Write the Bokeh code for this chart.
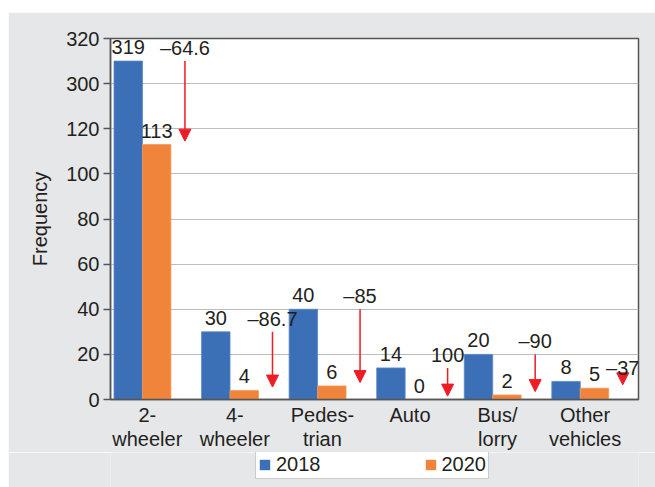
from bokeh.plotting import figure
from bokeh.models import (ColumnDataSource, Range1d, FixedTicker, Arrow, NormalHead,
                          Legend, LegendItem, LabelSet, Spacer)
from bokeh.layouts import row, column
from bokeh.core.properties import value
from bokeh.embed import file_html
from bokeh.resources import INLINE

# ---------------- data ----------------
categories = ["2-\nwheeler", "4-\nwheeler", "Pedes-\ntrian", "Auto", "Bus/\nlorry", "Other\nvehicles"]
freq_2018 = [319, 30, 40, 14, 20, 8]
freq_2020 = [113, 4, 6, 0, 2, 5]
pct_change = ["\u201364.6", "\u201386.7", "\u201385", "100", "\u201390", "\u201337"]
series_names = ["2018", "2020"]
y_tick_values = [0, 20, 40, 60, 80, 100, 120, 300, 320]

# ---------------- broken axis mapping ----------------
LOWER_MAX = 120      # last tick of the lower segment
UPPER_START = 300    # first tick of the upper segment
GAP = 20             # visual spacing between 120 and 300
BAR_CAP = 150        # drawn top of bars running into the upper segment

def disp(v):
    if v <= LOWER_MAX:
        return v
    return LOWER_MAX + GAP + (v - UPPER_START)

def bar_disp(v):
    return min(disp(v), BAR_CAP)

tick_pos = [disp(v) for v in y_tick_values]

FONT = "Liberation Sans"
TXT = "#231f20"
BLUE = "#3b6fb6"
ORANGE = "#f0843a"
RED = "#ee1c25"
BG = "#e6e7e9"
AXC = "#555555"

n = len(categories)
idx = list(range(n))
BW = 0.325
blue_x = [i + BW / 2 for i in idx]
orange_x = [i + BW * 1.5 for i in idx]
arrow_x = [i + 0.81 for i in idx]
label_x = [i + 0.38 for i in idx]

b_top = [bar_disp(v) for v in freq_2018]
o_top = [bar_disp(v) for v in freq_2020]

src_b = ColumnDataSource(dict(x=blue_x, top=b_top, lab=[str(v) for v in freq_2018]))
src_o = ColumnDataSource(dict(x=orange_x, top=o_top, lab=[str(v) for v in freq_2020]))
arr_start = [t for t in b_top]
arr_end = [t + 1.5 for t in o_top]
src_a = ColumnDataSource(dict(x=arrow_x, y0=arr_start, y1=arr_end, lab=pct_change))

p = figure(width=647, height=440, output_backend="svg", toolbar_location=None,
           x_range=Range1d(-0.04, 5.99), y_range=Range1d(0, disp(320)),
           min_border_left=102, min_border_right=17, min_border_top=26, min_border_bottom=52)
p.background_fill_color = "white"
p.border_fill_color = BG
p.outline_line_color = AXC
p.outline_line_width = 1.5

rb = p.vbar(x="x", top="top", width=BW, bottom=0, source=src_b,
            fill_color=BLUE, line_color="#5a88c8", line_width=0.8)
ro = p.vbar(x="x", top="top", width=BW, bottom=0, source=src_o,
            fill_color=ORANGE, line_color="#f39a5c", line_width=0.8)

# value labels
for src in (src_b, src_o):
    p.add_layout(LabelSet(x="x", y="top", text="lab", source=src, text_align="center",
                          text_baseline="alphabetic", y_offset=7,
                          text_font=value(FONT), text_font_size="20px", text_color=TXT))

# change arrows
p.add_layout(Arrow(x_start="x", y_start="y0", x_end="x", y_end="y1", source=src_a,
                   line_color=RED, line_width=1.5,
                   end=NormalHead(size=12, fill_color=RED, line_color=RED)))
p.add_layout(LabelSet(x="x", y="y0", text="lab", source=src_a, text_align="center",
                      text_baseline="alphabetic", y_offset=6,
                      text_font=value(FONT), text_font_size="20px", text_color=TXT))

# axes
p.yaxis.ticker = FixedTicker(ticks=tick_pos)
p.yaxis.major_label_overrides = {t: str(v) for t, v in zip(tick_pos, y_tick_values)}
p.yaxis.axis_label = "Frequency"
p.yaxis.axis_label_text_font = FONT
p.yaxis.axis_label_text_font_size = "20px"
p.yaxis.axis_label_text_font_style = "normal"
p.yaxis.axis_label_text_color = TXT
p.yaxis.axis_label_standoff = 12
p.yaxis.major_tick_out = 7
p.yaxis.major_tick_in = 0
p.yaxis.minor_tick_out = 0
p.yaxis.minor_tick_in = 0
p.yaxis.major_label_standoff = 4

p.xaxis.ticker = FixedTicker(ticks=label_x)
p.xaxis.major_label_overrides = {x: c for x, c in zip(label_x, categories)}
p.xaxis.major_tick_out = 0
p.xaxis.major_tick_in = 0
p.xaxis.minor_tick_out = 0
p.xaxis.minor_tick_in = 0
p.xaxis.major_label_standoff = 4
p.xaxis.major_label_text_line_height = 1.1

for ax in (p.xaxis, p.yaxis):
    ax.axis_line_color = AXC
    ax.axis_line_width = 1.5
    ax.major_tick_line_color = AXC
    ax.major_tick_line_width = 1.5
    ax.major_label_text_font = FONT
    ax.major_label_text_font_size = "20px"
    ax.major_label_text_color = TXT

p.xgrid.grid_line_color = None
p.ygrid.ticker = FixedTicker(ticks=tick_pos)
p.ygrid.grid_line_color = "#bdbdbd"
p.ygrid.grid_line_width = 1

# legend strip (separate small figure below the chart; its frame aligns with the chart's)
q = figure(width=647, height=35, output_backend="svg", toolbar_location=None,
           x_range=Range1d(0, 1), y_range=Range1d(0, 1),
           x_axis_location=None, y_axis_location=None,
           min_border_left=102, min_border_right=17, min_border_top=0, min_border_bottom=0)
q.background_fill_color = BG
q.border_fill_color = BG
q.outline_line_color = None
q.xgrid.grid_line_color = None
q.ygrid.grid_line_color = None
# swatch renderers kept outside the visible range; only their legend glyphs show
lb = q.vbar(x=[5], top=[5], bottom=[4], width=0.1, fill_color=BLUE, line_color=None)
lo = q.vbar(x=[5], top=[5], bottom=[4], width=0.1, fill_color=ORANGE, line_color=None)

legend = Legend(items=[LegendItem(label=series_names[0], renderers=[lb]),
                       LegendItem(label=series_names[1], renderers=[lo])],
                orientation="horizontal", location=(145, 8),
                label_text_font=FONT, label_text_font_size="20px", label_text_color=TXT,
                glyph_width=13, glyph_height=13, label_standoff=5, label_height=15,
                spacing=103, padding=2, margin=0,
                border_line_color="#999999", border_line_width=1,
                background_fill_color="white", background_fill_alpha=1)
q.add_layout(legend, "center")

layout = row(Spacer(width=8), column(Spacer(height=12), p, q))
open("out.html", "w").write(file_html(layout, INLINE))
